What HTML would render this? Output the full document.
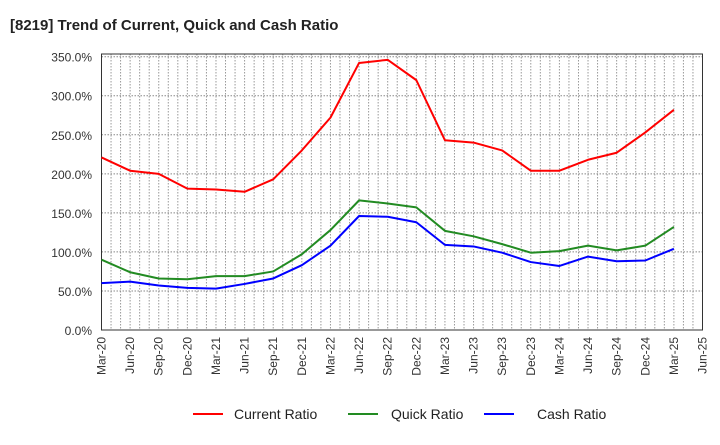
<!DOCTYPE html>
<html><head><meta charset="utf-8"><style>
body{margin:0;background:#fff;font-family:"Liberation Sans",sans-serif;}
svg text{font-family:"Liberation Sans",sans-serif;}
</style></head><body>
<svg width="720" height="440" xmlns="http://www.w3.org/2000/svg">
<text x="10" y="30" font-size="15" font-weight="bold" fill="#222">[8219]  Trend of Current, Quick and Cash Ratio</text>
<g id="grid"></g><g id="axes"></g><g id="series"></g>
<g id="legend">
<line x1="193" y1="414" x2="223" y2="414" stroke="#f00" stroke-width="2"/>
<text x="234" y="419" font-size="14" fill="#222">Current Ratio</text>
<line x1="348" y1="414" x2="378" y2="414" stroke="#228b22" stroke-width="2"/>
<text x="391" y="419" font-size="14" fill="#222">Quick Ratio</text>
<line x1="484" y1="414" x2="514" y2="414" stroke="#00f" stroke-width="2"/>
<text x="537" y="419" font-size="14" fill="#222">Cash Ratio</text>
</g>
</svg>
<script>
const categories=["Mar-20","Jun-20","Sep-20","Dec-20","Mar-21","Jun-21","Sep-21","Dec-21","Mar-22","Jun-22","Sep-22","Dec-22","Mar-23","Jun-23","Sep-23","Dec-23","Mar-24","Jun-24","Sep-24","Dec-24","Mar-25","Jun-25"];
const currentRatio=[221,204,200,181,180,177,193,230,272,342,346,320,243,240,230,204,204,218,227,253,282];
const quickRatio=[90,74,66,65,69,69,75,97,128,166,162,157,127,120,110,99,101,108,102,108,132];
const cashRatio=[60,62,57,54,53,59,66,83,108,146,145,138,109,107,99,87,82,94,88,89,104];
const yTicks=[0,50,100,150,200,250,300,350];
const NS="http://www.w3.org/2000/svg";
const L=101.5,R=702.5,T=54,B=330,YMAX=350;
const n=categories.length-1;
const xs=i=>L+(R-L)*i/n;
const ys=v=>B-(B-56.7)*v/YMAX;
function mk(tag,attrs,parent){const e=document.createElementNS(NS,tag);for(const k in attrs)e.setAttribute(k,attrs[k]);parent.appendChild(e);return e;}
const grid=document.getElementById('grid'),axes=document.getElementById('axes'),series=document.getElementById('series');
for(let m=1;m<n*3;m++){const x=L+(R-L)*m/(n*3);
const g=mk('line',{x1:x,y1:T,x2:x,y2:B,stroke:'#999','stroke-dasharray':'1.5,1.5','stroke-width':1},grid);

}
yTicks.forEach(v=>{const y=ys(v);
const g=mk('line',{x1:L,y1:y,x2:R,y2:y,stroke:'#888','stroke-dasharray':'1.5,1.5','stroke-width':1},grid);


const t=mk('text',{x:92,y:y+5,'font-size':12,'text-anchor':'end',fill:'#333'},axes);t.textContent=v.toFixed(1)+'%';

});
categories.forEach((c,i)=>{const x=xs(i);
const t=mk('text',{x:0,y:0,'font-size':12,'text-anchor':'end',fill:'#333',transform:`translate(${x+4},${B+7}) rotate(-90)`},axes);t.textContent=c;

});
const fr=mk('rect',{x:L,y:T,width:R-L,height:B-T,fill:'none',stroke:'#333','stroke-width':1},axes);


[[currentRatio,'#f00','current-ratio-line'],[quickRatio,'#228b22','quick-ratio-line'],[cashRatio,'#00f','cash-ratio-line']].forEach(([d,col,name])=>{
const p=mk('polyline',{points:d.map((v,i)=>xs(i)+','+ys(v)).join(' '),fill:'none',stroke:col,'stroke-width':2,'stroke-linejoin':'round'},series);

});
</script>
</body></html>
